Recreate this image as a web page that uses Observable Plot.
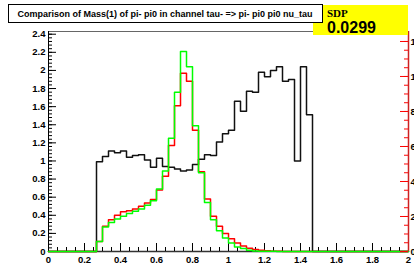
<!DOCTYPE html>
<html><head><meta charset="utf-8">
<script src="https://cdn.jsdelivr.net/npm/d3@7"></script>
<script src="https://cdn.jsdelivr.net/npm/@observablehq/plot@0.6"></script>
<style>
html,body{margin:0;padding:0;background:#fff;}
#chart{position:relative;width:414px;height:267px;overflow:hidden;}
</style></head><body><div id="chart"></div>
<script>
// ---- text ----
const titleText = "Comparison of Mass(1) of pi- pi0 in channel tau- => pi- pi0 pi0 nu_tau";
const statLabel = "SDP";
const statValue = "0.0299";

// ---- binning (60 bins from 0 to 2) ----
const xMin = 0, xMax = 2, nBins = 60;

// ---- series values (bin contents) ----
const blackHist = [0,0,0,0,0,0,0,0,
  0.99,1.05,1.11,1.09,1.11,1.04,1.06,1.07,1.01,0.93,
  1.03,0.94,0.93,0.91,0.89,0.90,0.96,1.02,1.07,1.06,
  1.21,1.30,1.34,1.66,1.55,1.77,1.76,1.98,1.93,2.00,
  2.04,1.88,1.90,1.00,2.04,1.51,
  0,0,0,0,0,0,0,0,0,0,0,0,0,0,0,0];
const redHist = [0,0,0,0,0,0,0,0,
  0.11,0.28,0.35,0.40,0.44,0.45,0.47,0.50,0.535,0.575,
  0.68,0.83,1.17,1.61,1.97,1.88,1.34,0.88,0.58,0.39,
  0.28,0.20,0.14,0.095,0.06,0.035,0.022,0.015,0.008,0.004,
  0.002,0.001,
  0,0,0,0,0,0,0,0,0,0,0,0,0,0,0,0,0,0,0,0];
const greenHist = [0,0,0,0,0,0,0,0,
  0.11,0.27,0.32,0.36,0.39,0.42,0.445,0.47,0.51,0.56,
  0.69,0.89,1.25,1.76,2.21,2.04,1.39,0.87,0.54,0.35,
  0.23,0.15,0.095,0.05,0.032,0.013,0.006,0.004,0.003,0.002,
  0.001,0,
  0,0,0,0,0,0,0,0,0,0,0,0,0,0,0,0,0,0,0,0];

// ---- tick labels ----
const xTicks = [0,0.2,0.4,0.6,0.8,1,1.2,1.4,1.6,1.8,2];
const xTickLabels = ["0","0.2","0.4","0.6","0.8","1","1.2","1.4","1.6","1.8","2"];
const yTicks = [0,0.2,0.4,0.6,0.8,1,1.2,1.4,1.6,1.8,2,2.2,2.4];
const yTickLabels = ["0","0.2","0.4","0.6","0.8","1","1.2","1.4","1.6","1.8","2","2.2","2.4"];
const rTicks = [0,2,4,6,8,10,12];
const rTickLabels = ["0","2","4","6","8","10","12"];

const yMax = 2.43, rMax = 12.57;
const xMinorStep = 0.05, yMinorStep = 0.04, rMinorStep = 0.5;

// ---- layout ----
const W = 414, H = 267, mL = 48, mR = 6, mT = 31, mB = 16;
const innerW = W - mL - mR, innerH = H - mT - mB;

function steps(vals) {
  const w = (xMax - xMin) / nBins;
  const pts = vals.map((v, i) => ({x: xMin + i * w, y: v}));
  pts.push({x: xMax, y: vals[vals.length - 1]});
  return pts;
}
const xMinor = d3.range(xMin, xMax + 1e-9, xMinorStep);
const yMinor = d3.range(0, yMax, yMinorStep);
const rMinor = d3.range(0, rMax, rMinorStep);
const rToY = r => r * yMax / rMax;

const fontFam = "'Liberation Sans', Arial, Helvetica, sans-serif";

const svg = Plot.plot({
  width: W, height: H,
  marginLeft: mL, marginRight: mR, marginTop: mT, marginBottom: mB,
  style: {fontFamily: fontFam, fontSize: "9.5px", fontWeight: "bold", background: "#fff", overflow: "visible"},
  x: {domain: [xMin, xMax], axis: null},
  y: {domain: [0, yMax], axis: null},
  marks: [
    Plot.ruleY([yMax], {stroke: "#666", strokeWidth: 1}),
    Plot.ruleX([xMin], {stroke: "#000", strokeWidth: 1}),
    Plot.ruleY([0], {stroke: "#333", strokeWidth: 1.5}),
    // left axis ticks
    Plot.tickY(yMinor, {y: d => d, insetRight: innerW - 4, stroke: "#000"}),
    Plot.tickY(yTicks, {y: d => d, insetRight: innerW - 8, stroke: "#000"}),
    Plot.text(yTicks, {y: d => d, text: (d, i) => yTickLabels[i], frameAnchor: "left", textAnchor: "end", dx: -3, fill: "#000"}),
    // bottom axis ticks
    Plot.tickX(xMinor, {x: d => d, insetTop: innerH - 4, stroke: "#000"}),
    Plot.tickX(xTicks, {x: d => d, insetTop: innerH - 8, stroke: "#000"}),
    Plot.text(xTicks, {x: d => d, text: (d, i) => xTickLabels[i], frameAnchor: "bottom", lineAnchor: "top", dy: 5, fill: "#000"}),
    // histograms
    Plot.line(steps(blackHist), {x: "x", y: "y", curve: "step-after", stroke: "#111", strokeWidth: 1.5}),
    Plot.line(steps(redHist), {x: "x", y: "y", curve: "step-after", stroke: "#ff0000", strokeWidth: 1.5}),
    Plot.line(steps(greenHist), {x: "x", y: "y", curve: "step-after", stroke: "#00ff00", strokeWidth: 1.5}),
    // right axis (red)
    Plot.tickY(rMinor, {y: rToY, insetLeft: innerW - 4, stroke: "#ff0000"}),
    Plot.tickY(rTicks, {y: rToY, insetLeft: innerW - 8, stroke: "#ff0000"}),
    Plot.ruleX([xMax], {stroke: "#cc2222", strokeWidth: 1.5}),
    Plot.text(rTicks, {y: rToY, text: (d, i) => rTickLabels[i], frameAnchor: "right", textAnchor: "start", dx: 2, fill: "#000"})
  ]
});
document.getElementById("chart").appendChild(svg);

// stat box (yellow) then title box on top of it
const s = d3.select(svg);
s.append("rect").attr("x", 313).attr("y", 5).attr("width", 95).attr("height", 30).attr("fill", "#ffff00");
s.append("text").attr("x", 327).attr("y", 17).attr("text-anchor", "start")
  .style("font-family", "'Liberation Serif', 'Times New Roman', serif").style("font-weight", "bold").style("font-size", "11px")
  .attr("fill", "#000").text(statLabel);
s.append("text").attr("x", 327).attr("y", 33).attr("text-anchor", "start")
  .style("font-family", fontFam).style("font-weight", "bold").style("font-size", "16px")
  .attr("fill", "#000").text(statValue);
s.append("rect").attr("x", 8.5).attr("y", 4.5).attr("width", 314).attr("height", 18)
  .attr("fill", "#fff").attr("stroke", "#000").attr("stroke-width", 1);
s.append("text").attr("x", 165).attr("y", 17).attr("text-anchor", "middle")
  .style("font-family", fontFam).style("font-weight", "bold").style("font-size", "9px")
  .attr("fill", "#000").text(titleText);
</script></body></html>
